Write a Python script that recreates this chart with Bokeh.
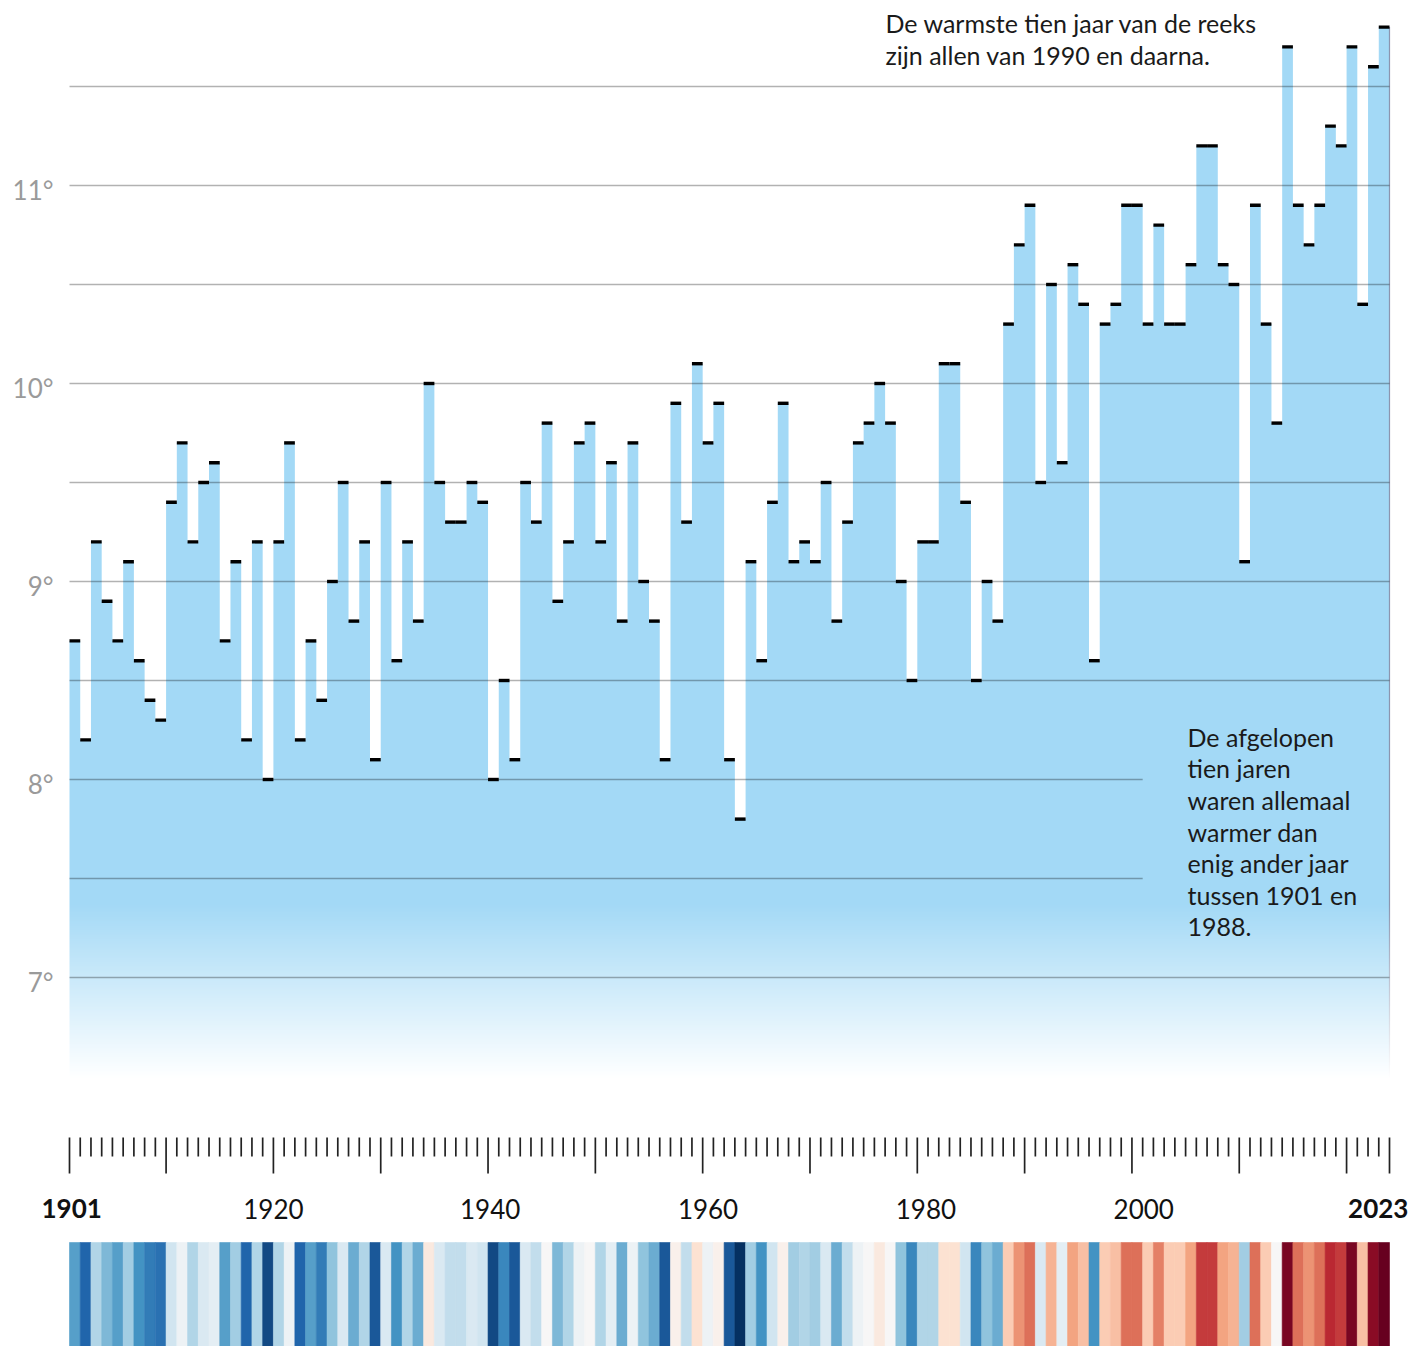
import numpy as np
from bokeh.plotting import figure
from bokeh.models import ColumnDataSource, Range1d, LinearColorMapper
from bokeh.embed import file_html
from bokeh.resources import INLINE
from bokeh.core.properties import value
from bokeh.transform import transform
from bokeh.palettes import RdBu11

# ---------------- data ----------------
years = list(range(1901, 2024))
temps = [
    8.7, 8.2, 9.2, 8.9, 8.7, 9.1, 8.6, 8.4, 8.3, 9.4,      # 1901-1910
    9.7, 9.2, 9.5, 9.6, 8.7, 9.1, 8.2, 9.2, 8.0, 9.2,      # 1911-1920
    9.7, 8.2, 8.7, 8.4, 9.0, 9.5, 8.8, 9.2, 8.1, 9.5,      # 1921-1930
    8.6, 9.2, 8.8, 10.0, 9.5, 9.3, 9.3, 9.5, 9.4, 8.0,     # 1931-1940
    8.5, 8.1, 9.5, 9.3, 9.8, 8.9, 9.2, 9.7, 9.8, 9.2,      # 1941-1950
    9.6, 8.8, 9.7, 9.0, 8.8, 8.1, 9.9, 9.3, 10.1, 9.7,     # 1951-1960
    9.9, 8.1, 7.8, 9.1, 8.6, 9.4, 9.9, 9.1, 9.2, 9.1,      # 1961-1970
    9.5, 8.8, 9.3, 9.7, 9.8, 10.0, 9.8, 9.0, 8.5, 9.2,     # 1971-1980
    9.2, 10.1, 10.1, 9.4, 8.5, 9.0, 8.8, 10.3, 10.7, 10.9, # 1981-1990
    9.5, 10.5, 9.6, 10.6, 10.4, 8.6, 10.3, 10.4, 10.9, 10.9,  # 1991-2000
    10.3, 10.8, 10.3, 10.3, 10.6, 11.2, 11.2, 10.6, 10.5, 9.1,  # 2001-2010
    10.9, 10.3, 9.8, 11.7, 10.9, 10.7, 10.9, 11.3, 11.2, 11.7,  # 2011-2020
    10.4, 11.6, 11.8,                                          # 2021-2023
]
y_ticks = [7, 8, 9, 10, 11]
y_tick_labels = ["7°", "8°", "9°", "10°", "11°"]
grid_values = [7, 7.5, 8, 8.5, 9, 9.5, 10, 10.5, 11, 11.5]
label_years = [1901, 1920, 1940, 1960, 1980, 2000, 2023]
bold_years = [1901, 2023]
major_tick_years = [1901, 1910, 1920, 1930, 1940, 1950, 1960, 1970, 1980, 1990, 2000, 2010, 2020, 2024]
note_top = ["De warmste tien jaar van de reeks", "zijn allen van 1990 en daarna."]
note_right = ["De afgelopen", "tien jaren", "waren allemaal", "warmer dan",
              "enig ander jaar", "tussen 1901 en", "1988."]

# ---------------- layout / style constants ----------------
W, H = 1413, 1346
LEFT, RIGHT = 69, 24                  # plot area inside the canvas
N = len(years)
X0, X1 = years[0], years[-1] + 1
PXY = (W - LEFT - RIGHT) / N          # pixels per year
PXD = 198.0                           # pixels per degree
Y_END = 11 + 185 / PXD                # temperature at top of canvas
Y_START = Y_END - H / PXD
FILL_BOTTOM = 6.45
FADE_TOP = 7.38
BLUE = "#a3d9f6"
FONT = "Lato"
NOTE_LEFT = 2001.0
NOTE_TOP_Y, NOTE_BOT_Y = 8.3, 7.2
TXT = 9                               # baseline compensation (px)
# lower band (ticks, labels, stripes) uses a pixel-offset range
TICK_TOP, MAJOR_LEN, MINOR_LEN = 1137, 36, 19
LABEL_BASE = 1217
STRIPE_TOP = 1242
label_x = [1901.2, 1920.0, 1940.2, 1960.5, 1980.8, 2001.1, 2022.95]

def deg_at(px):
    return Y_END - px / PXD

p = figure(width=W, height=H,
           x_range=Range1d(X0 - LEFT / PXY, X1 + RIGHT / PXY),
           y_range=Range1d(Y_START, Y_END),
           output_backend="svg", toolbar_location=None, title=None,
           x_axis_location=None, y_axis_location=None, min_border=0)
p.extra_y_ranges = {"band": Range1d(start=-H, end=0)}
p.outline_line_color = None
p.xgrid.visible = False
p.ygrid.visible = False
p.background_fill_color = "white"
p.border_fill_color = "white"

# ---- stepped area of the yearly means ----
edges = years + [X1]
step_vals = temps + [temps[-1]]
step_src = ColumnDataSource(dict(x=edges, top=step_vals, bottom=[FILL_BOTTOM] * len(edges)))
p.varea_step(x="x", y1="bottom", y2="top", step_mode="after", source=step_src,
             fill_color=BLUE)

# right edge stroke of the area
p.segment(x0=[X1], y0=[FILL_BOTTOM], x1=[X1], y1=[temps[-1]],
          line_color="#848ca6", line_width=1.2, line_alpha=0.9)

# fade to white at the bottom
NR = 400
img = np.zeros((NR, 1), dtype=np.uint32)
view = img.view(dtype=np.uint8).reshape((NR, 1, 4))
view[:, 0, 0:3] = 255
view[:, 0, 3] = np.clip(np.linspace(275, 0, NR), 0, 255).astype(np.uint8)
p.image_rgba(image=[img], x=X0 - 0.2, y=FILL_BOTTOM - 0.03, dw=N + 0.5,
             dh=FADE_TOP - FILL_BOTTOM + 0.03)

# grid lines on top of the fill
gx1 = [NOTE_LEFT if NOTE_BOT_Y < g < NOTE_TOP_Y else X1 for g in grid_values]
p.segment(x0=[X0] * len(grid_values), y0=grid_values, x1=gx1, y1=grid_values,
          line_color="black", line_alpha=0.3, line_width=1.3)

# black markers at each year's value
p.rect(x=[y + 0.5 for y in years], y=temps, width=1, height=3.4, height_units="screen",
       fill_color="black", line_color=None)

# y labels
p.text(x=[X0 - 16 / PXY] * len(y_ticks),
       y=[t - 13 / PXD + TXT / PXD for t in y_ticks], text=y_tick_labels,
       text_font=value(FONT), text_font_size="26px", text_color="#9a9a9a",
       text_align="right", text_baseline="alphabetic")

# annotations
p.text(x=[X0 + (885 - LEFT) / PXY] * len(note_top),
       y=[deg_at(31 - TXT + i * 32) for i in range(len(note_top))],
       text=note_top, text_font=value(FONT), text_font_size="25px", text_color="#1a1a1a",
       text_baseline="alphabetic", text_align="left")
p.text(x=[X0 + (1187 - LEFT) / PXY] * len(note_right),
       y=[deg_at(745 - TXT + i * 31.7) for i in range(len(note_right))],
       text=note_right, text_font=value(FONT), text_font_size="25px", text_color="#1a1a1a",
       text_baseline="alphabetic", text_align="left")

# ---- year ticks ----
tick_x = list(range(X0, X1 + 1))
tick_end = [-(TICK_TOP + (MAJOR_LEN if t in major_tick_years else MINOR_LEN)) for t in tick_x]
p.segment(x0=tick_x, y0=[-TICK_TOP] * len(tick_x), x1=tick_x, y1=tick_end,
          line_color="#222222", line_width=1.7, y_range_name="band")

# ---- year labels ----
for bold in (False, True):
    sel = [i for i, yr in enumerate(label_years) if (yr in bold_years) == bold]
    p.text(x=[label_x[i] for i in sel], y=[-(LABEL_BASE - TXT)] * len(sel),
           text=[str(label_years[i]) for i in sel], y_range_name="band",
           text_font=value(FONT), text_font_size="26px",
           text_font_style="bold" if bold else "normal",
           text_color="#111111", text_align="center", text_baseline="alphabetic")

# ---- warming stripes ----
def _rgb(h):
    return np.array([int(h[i:i + 2], 16) for i in (1, 3, 5)], dtype=float)
anchors = np.array([_rgb(c) for c in RdBu11])
if anchors[0, 0] > anchors[0, 2]:          # make it run from blue (cold) to red (warm)
    anchors = anchors[::-1]
pos = np.linspace(0, 1, len(anchors))
tt = np.linspace(0, 1, 256)
palette = ["#%02x%02x%02x" % tuple(int(round(np.interp(v, pos, anchors[:, k]))) for k in range(3))
           for v in tt]
mapper = LinearColorMapper(palette=palette, low=min(temps), high=max(temps))

stripe_src = ColumnDataSource(dict(left=years, right=[y + 1 for y in years], temp=temps))
p.quad(left="left", right="right", top=-STRIPE_TOP, bottom=-H - 2, source=stripe_src,
       fill_color=transform("temp", mapper), line_color=transform("temp", mapper),
       line_width=0.6, y_range_name="band")

open("out.html", "w").write(file_html(p, INLINE))
